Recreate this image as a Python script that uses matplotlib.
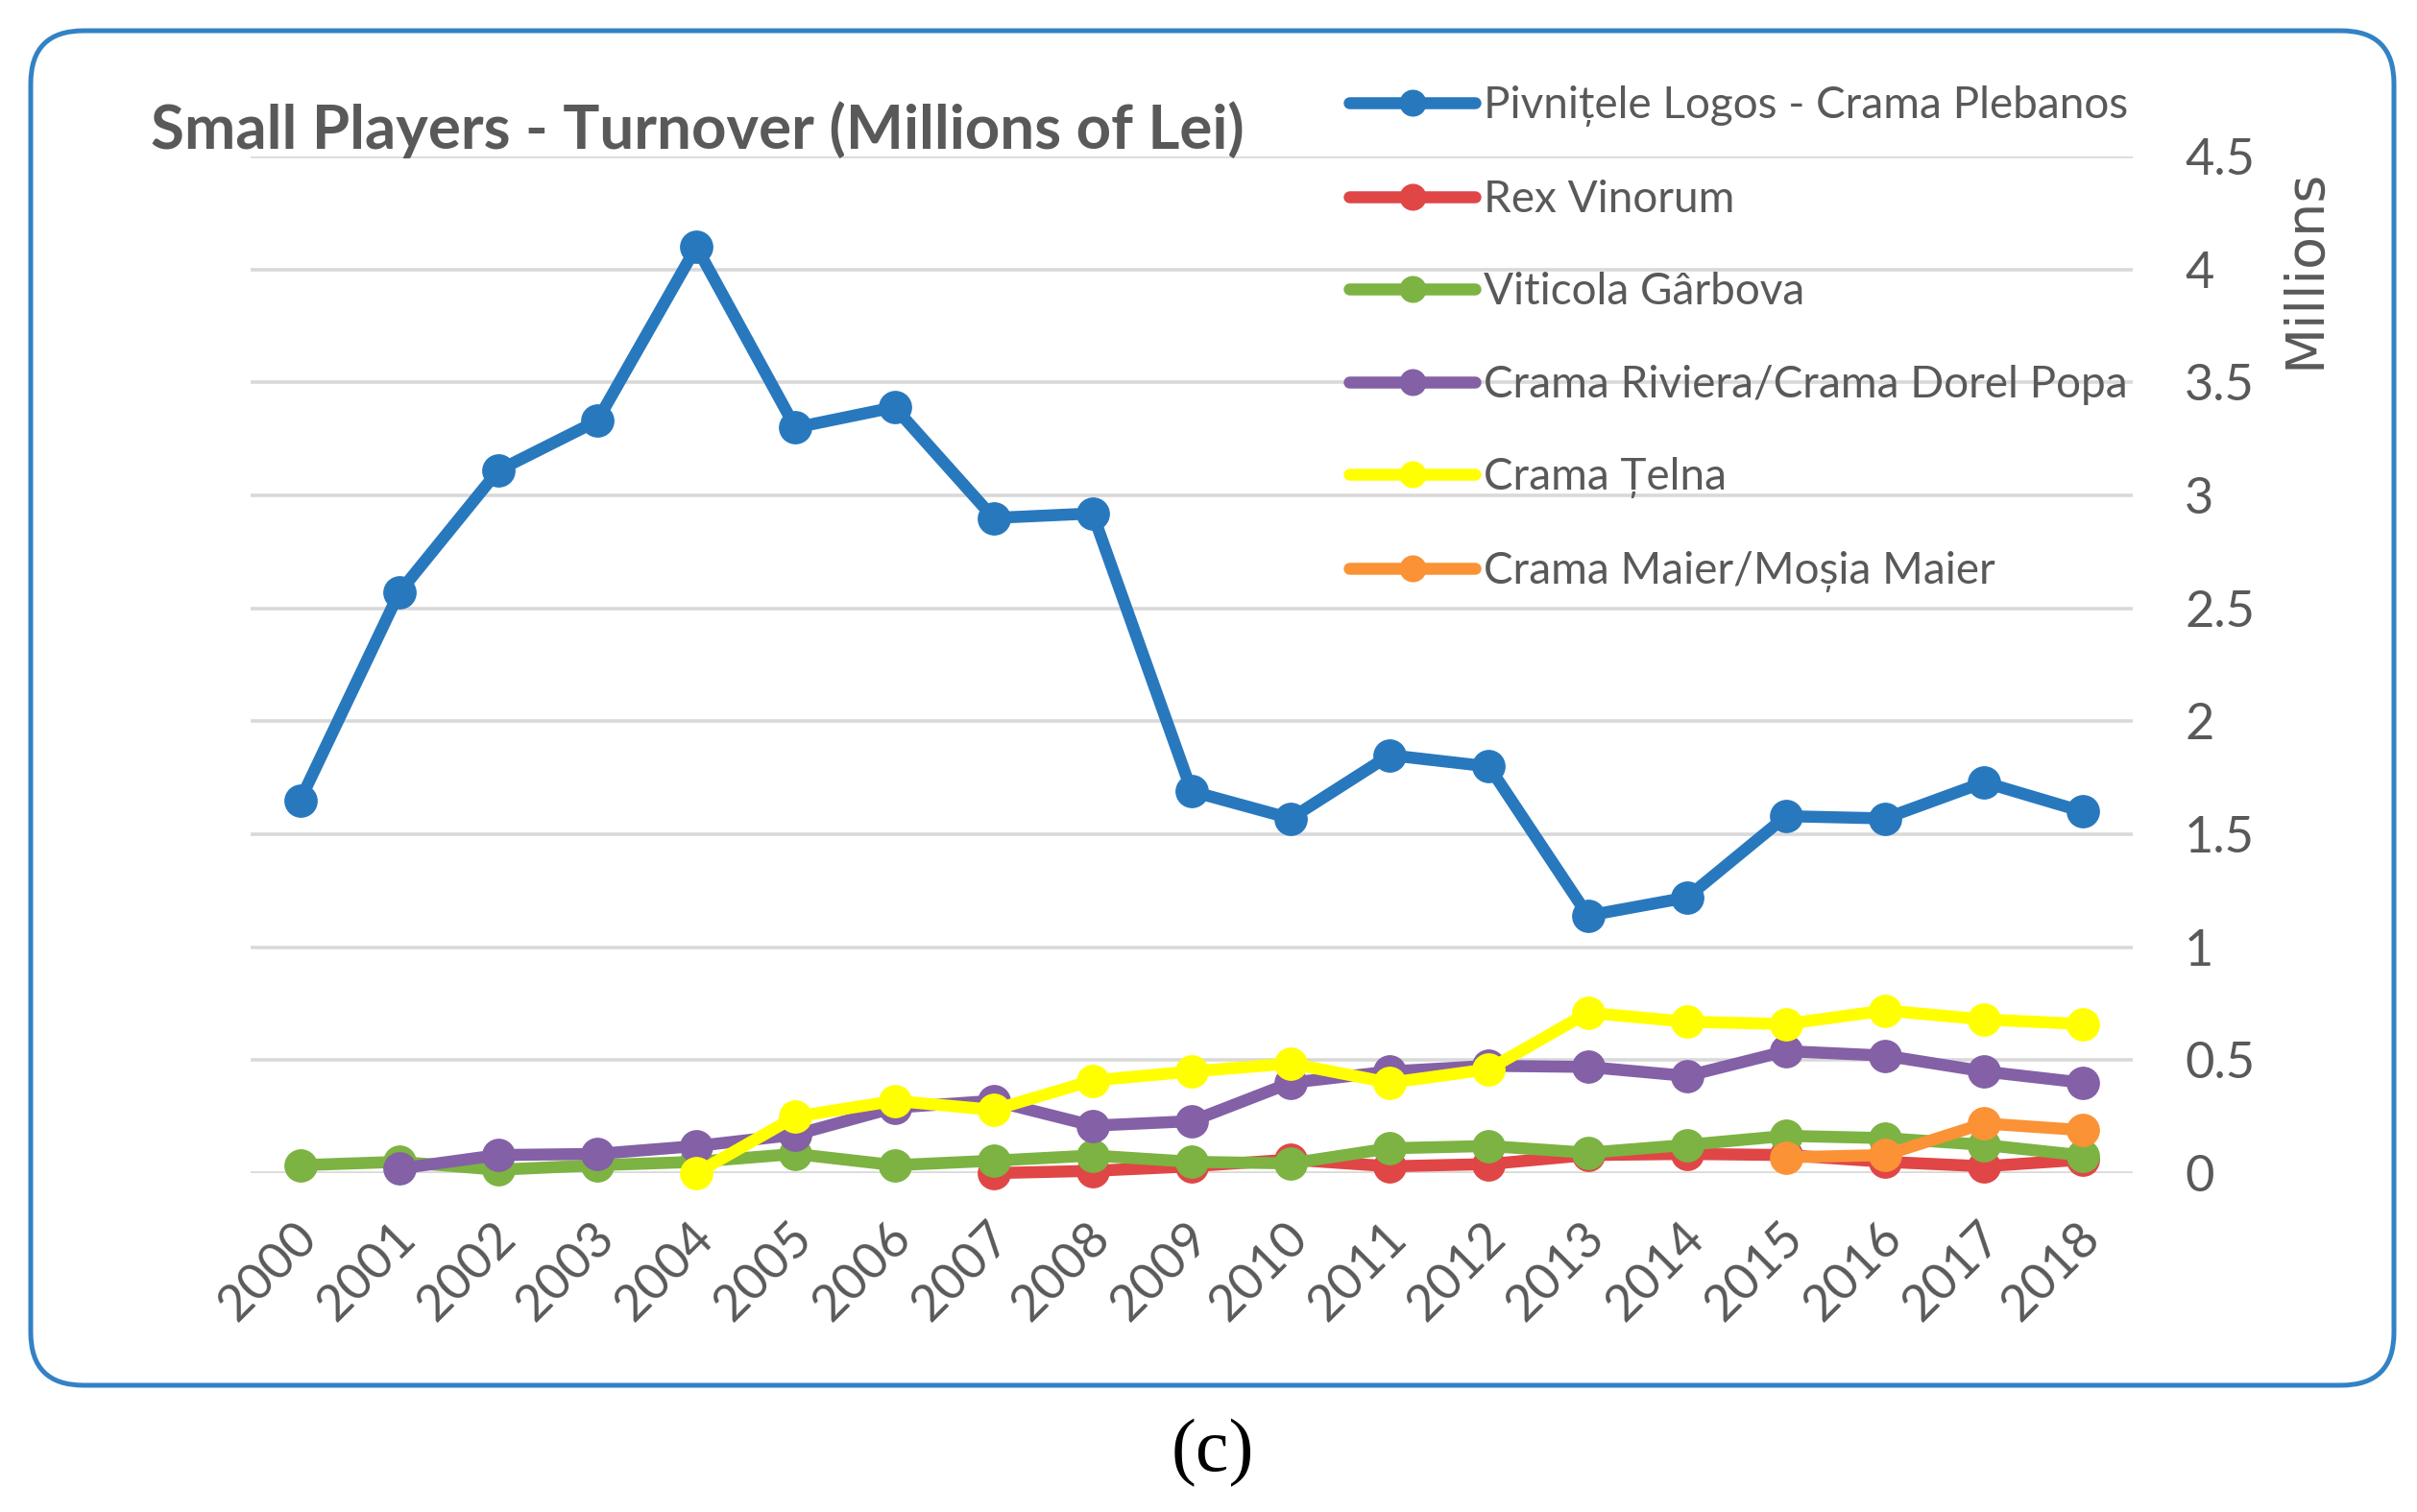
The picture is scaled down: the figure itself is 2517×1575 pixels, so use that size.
import numpy as np
import matplotlib
matplotlib.use("Agg")
import matplotlib.pyplot as plt
from matplotlib.font_manager import FontProperties
from matplotlib.textpath import TextPath
from matplotlib.patches import FancyBboxPatch
from matplotlib.transforms import ScaledTranslation

nan = np.nan

years = [str(y) for y in range(2000, 2019)]

logos = [1.65, 2.57, 3.11, 3.33, 4.10, 3.30, 3.39, 2.90, 2.92, 1.69,
         1.57, 1.85, 1.80, 1.14, 1.22, 1.58, 1.57, 1.73, 1.60]
rex = [nan, nan, nan, nan, nan, nan, nan, 0.0, 0.01, 0.03,
       0.06, 0.03, 0.04, 0.08, 0.085, 0.08, 0.05, 0.03, 0.06]
garbova = [0.035, 0.05, 0.015, 0.035, 0.05, 0.085, 0.035, 0.055, 0.078, 0.05,
           0.043, 0.11, 0.12, 0.09, 0.125, 0.165, 0.155, 0.125, 0.078]
riviera = [nan, 0.02, 0.08, 0.085, 0.12, 0.17, 0.29, 0.32, 0.21, 0.23,
           0.40, 0.45, 0.475, 0.47, 0.43, 0.54, 0.52, 0.45, 0.40]
telna = [nan, nan, nan, nan, 0.0, 0.25, 0.32, 0.28, 0.41, 0.45,
         0.485, 0.40, 0.46, 0.71, 0.67, 0.66, 0.72, 0.68, 0.66]
maier = [nan, nan, nan, nan, nan, nan, nan, nan, nan, nan,
         nan, nan, nan, nan, nan, 0.07, 0.08, 0.22, 0.19]

names = ["Pivnițele Logos - Crama Plebanos", "Rex Vinorum", "Viticola Gârbova",
         "Crama Riviera/Crama Dorel Popa", "Crama Țelna", "Crama Maier/Moșia Maier"]
colors = ["#2878be", "#e04646", "#7cb342", "#8460a6", "#ffff00", "#fb9236"]

yticks = [0, 0.5, 1, 1.5, 2, 2.5, 3, 3.5, 4, 4.5]

W, H, DPI = 2517, 1575, 100
gray = "#595959"
fam = "Lato"


def fit_pt(text, target_px, weight="normal", family=fam):
    # font size (pt) that makes the text target_px wide
    tp = TextPath((0, 0), text, size=100, prop=FontProperties(family=family, weight=weight))
    w = tp.get_extents().width
    return target_px * 100 / w * 72 / DPI


title_pt = fit_pt("Small Players - Turnover (Millions of Lei)", 1136, weight="bold")
leg_pt = fit_pt(names[0], 665)
tick_pt = fit_pt("4.5", 69)
mill_pt = fit_pt("Millions", 200, family="DejaVu Sans")

fig = plt.figure(figsize=(W / DPI, H / DPI), dpi=DPI)
ax = fig.add_axes([261 / W, 1 - 1222 / H, (2221 - 261) / W, (1222 - 163) / H])

x = np.arange(len(years))
series = [logos, rex, garbova, riviera, telna, maier]
lines = []
for vals, name, c in zip(series, names, colors):
    ln, = ax.plot(x, vals, color=c, lw=9, marker="o", ms=24, mec=c, mfc=c,
                  label=name, clip_on=False, solid_capstyle="round")
    lines.append(ln)

ax.set_xlim(-0.5, len(years) - 0.5)
ax.set_ylim(0, 4.5)
ax.set_yticks(yticks)
ax.set_yticklabels(["%g" % v for v in yticks])
ax.yaxis.tick_right()
ax.grid(axis="y", color="#d9d9d9", lw=2.6, zorder=0)
ax.set_axisbelow(True)
for s in ax.spines.values():
    s.set_visible(False)

ax.tick_params(axis="y", length=0, pad=39, labelsize=tick_pt, labelcolor=gray)
ax.tick_params(axis="x", length=0, pad=43, labelsize=tick_pt, labelcolor=gray)
ax.set_xticks(x)
ax.set_xticklabels(years, rotation=45, ha="right", va="center", rotation_mode="anchor")
for lab in ax.get_xticklabels():
    lab.set_fontfamily(fam)
    lab.set_transform(lab.get_transform() + ScaledTranslation(10 / DPI, 0, fig.dpi_scale_trans))
for lab in ax.get_yticklabels():
    lab.set_fontfamily(fam)

fig.text(157 / W, 1 - 155 / H, "Small Players - Turnover (Millions of Lei)",
         fontsize=title_pt, fontweight="bold", color=gray, family=fam,
         ha="left", va="baseline")

fig.text(2400 / W, 1 - 280 / H, "Millions", rotation=90, fontsize=mill_pt,
         color=gray, family="DejaVu Sans", ha="center", va="center")

leg = ax.legend(handles=lines, loc="upper left", bbox_to_anchor=(1405 / W, 1 - 89 / H),
                bbox_transform=fig.transFigure, frameon=False, borderpad=0,
                borderaxespad=0, handlelength=131 / (leg_pt / 0.72),
                handletextpad=0.2, labelspacing=1.19, markerscale=0.8,
                prop=FontProperties(family=fam, size=leg_pt))
for t in leg.get_texts():
    t.set_color(gray)

# rounded frame around the chart
frame = FancyBboxPatch((32 / DPI, (H - 1443) / DPI), (2493 - 32) / DPI, (1443 - 32) / DPI,
                       boxstyle="round,pad=0,rounding_size=0.55",
                       transform=fig.dpi_scale_trans, fill=False,
                       edgecolor="#3282c4", lw=3.6)
fig.patches.append(frame)

fig.text(1263 / W, 1 - 1514 / H, "(c)", fontsize=56, family="Liberation Serif",
         color="black", ha="center", va="center")

fig.savefig("out.png", dpi=DPI, facecolor="white")
